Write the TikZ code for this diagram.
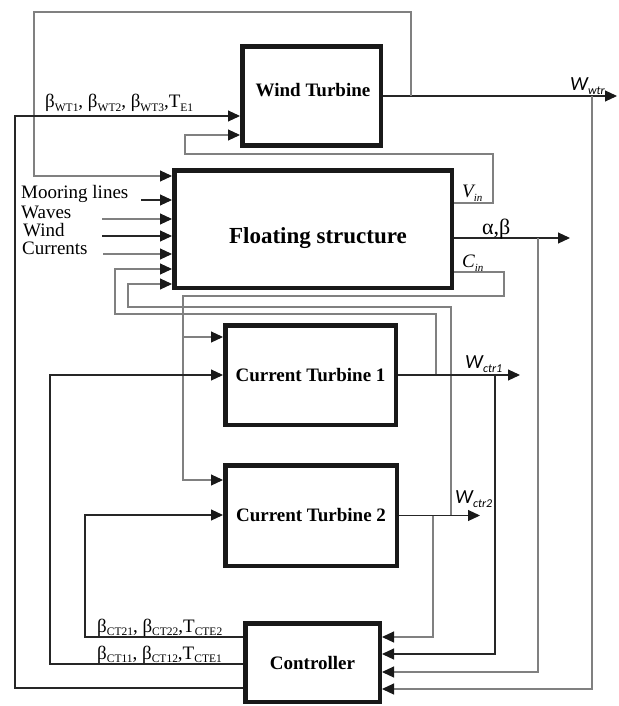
\documentclass[tikz,border=0pt]{standalone}
\usepackage{fontspec}
\setmainfont{Liberation Serif}
\newfontfamily\calib{Carlito}
\usetikzlibrary{arrows.meta}
\newcommand{\bsb}[1]{\raisebox{-3.5pt}{\fontsize{11.5}{12}\selectfont #1}}
\newcommand{\isb}[1]{\raisebox{-4pt}{\fontsize{11}{11}\selectfont\itshape #1}}
\newcommand{\wsb}[1]{\raisebox{-4pt}{\fontsize{12}{12}\selectfont\calib\itshape #1}}
\begin{document}
\begin{tikzpicture}[x=1pt,y=-1pt,
 blk/.style={draw=black!90,line width=4.5pt,fill=white,inner sep=0pt},
 conn/.style={draw=black!85,line width=1.1pt},
 gconn/.style={draw=black!50,line width=1.1pt},
 arr/.style={-{Triangle[length=12pt,width=11pt,color=black!90]}},
 bl/.style={font=\fontsize{19}{22}\selectfont\bfseries},
 lab/.style={font=\fontsize{19}{22}\selectfont, inner sep=0pt},
 wlab/.style={font=\fontsize{20}{22}\selectfont\calib\itshape, inner sep=0pt},
]
\useasboundingbox (0,0) rectangle (618,706);

% blocks
\node[blk,minimum width=138.5pt,minimum height=98.5pt] (wt) at (311.5,96) {};
\node[bl] (wtl) at (313,90) {Wind Turbine};
\node[blk,minimum width=277.5pt,minimum height=117.5pt] (fs) at (313,229) {};
\node[font=\fontsize{23}{26}\selectfont\bfseries] (fsl) at (318,238) {Floating structure};
\node[blk,bl,minimum width=170.5pt,minimum height=99.5pt] (ct1) at (310.5,375) {Current Turbine 1};
\node[blk,bl,minimum width=171.5pt,minimum height=100.5pt] (ct2) at (311,515.5) {Current Turbine 2};
\node[blk,bl,minimum width=134.5pt,minimum height=78.5pt] (ctrl) at (312.5,662.5) {Controller};

% coordinates
\coordinate (jwt) at (411,96);
\coordinate (ctop) at (34,12);
\coordinate (wtrend) at (617,96);
\coordinate (jwtr) at (592,96);
\coordinate (cleft) at (15,116);
\coordinate (vinr) at (493,154);
\coordinate (wtfb) at (185,135);
\coordinate (ml) at (141,200);
\coordinate (wv) at (102,219);
\coordinate (wd) at (102,236);
\coordinate (cu) at (103,254);
\coordinate (abend) at (570,238);
\coordinate (jab) at (538,238);
\coordinate (cinr) at (504,296);
\coordinate (cinl) at (183,480);
\coordinate (jcin) at (183,337);
\coordinate (j1) at (436,375);
\coordinate (f1) at (115,314);
\coordinate (j2) at (451,515.5);
\coordinate (f2) at (128,307);
\coordinate (w1end) at (520,375);
\coordinate (jw1) at (495,375);
\coordinate (w2end) at (480,515.5);
\coordinate (jw2) at (433,515.5);
\coordinate (c2l) at (85,515);
\coordinate (c1l) at (50,375);

% connectors
\draw[conn,arr] (wt.east) -- (wtrend);
\draw[gconn,arr] (jwt) |- (ctop) |- (fs.west |- 0,176);
\draw[gconn,arr] (jwtr) |- (ctrl.east |- 0,689);
\draw[conn,arr] (ctrl.west |- 0,688) -| (cleft) -- (wt.west |- cleft);
\draw[gconn,arr] (fs.east |- 0,203) -| (vinr) -| (wtfb) -- (wt.west |- wtfb);
\draw[conn,arr] (ml) -- (fs.west |- ml);
\draw[gconn,arr] (wv) -- (fs.west |- wv);
\draw[conn,arr] (wd) -- (fs.west |- wd);
\draw[gconn,arr] (cu) -- (fs.west |- cu);
\draw[conn,arr] (fs.east |- abend) -- (abend);
\draw[gconn,arr] (jab) |- (ctrl.east |- 0,672);
\draw[gconn,arr] (fs.east |- 0,272) -| (cinr) -| (cinl) -- (ct2.west |- cinl);
\draw[gconn,arr] (jcin) -- (ct1.west |- jcin);
\draw[gconn,arr] (j1) |- (f1) |- (fs.west |- 0,269);
\draw[gconn,arr] (j2) |- (f2) |- (fs.west |- 0,284);
\draw[conn,arr] (ct1.east) -- (w1end);
\draw[conn,arr] (jw1) |- (ctrl.east |- 0,654);
\draw[conn,arr] (ct2.east) -- (w2end);
\draw[gconn,arr] (jw2) |- (ctrl.east |- 0,637);
\draw[conn,arr] (ctrl.west |- 0,637) -| (c2l) -- (ct2.west |- c2l);
\draw[conn,arr] (ctrl.west |- 0,664) -| (c1l) -- (ct1.west |- c1l);

% labels
\node[lab,anchor=base west] (lbwt) at (45,108) {β\bsb{WT1}, β\bsb{WT2}, β\bsb{WT3},T\bsb{E1}};
\node[lab,anchor=base west] (lml) at (21,198) {Mooring lines};
\node[lab,anchor=base west] (lwv) at (21,218) {Waves};
\node[lab,anchor=base west] (lwd) at (23,236) {Wind};
\node[lab,anchor=base west] (lcu) at (22,254) {Currents};
\node[lab,anchor=base west,font=\fontsize{22}{24}\selectfont] (lab1) at (482,234) {α,β};
\node[lab,anchor=base west] (lvin) at (462,197) {\itshape V\isb{in}};
\node[lab,anchor=base west] (lcin) at (462,267) {\itshape C\isb{in}};
\node[wlab,anchor=base west] (lwtr) at (570,91) {W\wsb{wtr}};
\node[wlab,anchor=base west] (lw1) at (465,368) {W\wsb{ctr1}};
\node[wlab,anchor=base west] (lw2) at (455,503) {W\wsb{ctr2}};
\node[lab,anchor=base west] (lct2) at (97,632) {β\bsb{CT21}, β\bsb{CT22},T\bsb{CTE2}};
\node[lab,anchor=base west] (lct1) at (97,659) {β\bsb{CT11}, β\bsb{CT12},T\bsb{CTE1}};
\end{tikzpicture}
\end{document}
